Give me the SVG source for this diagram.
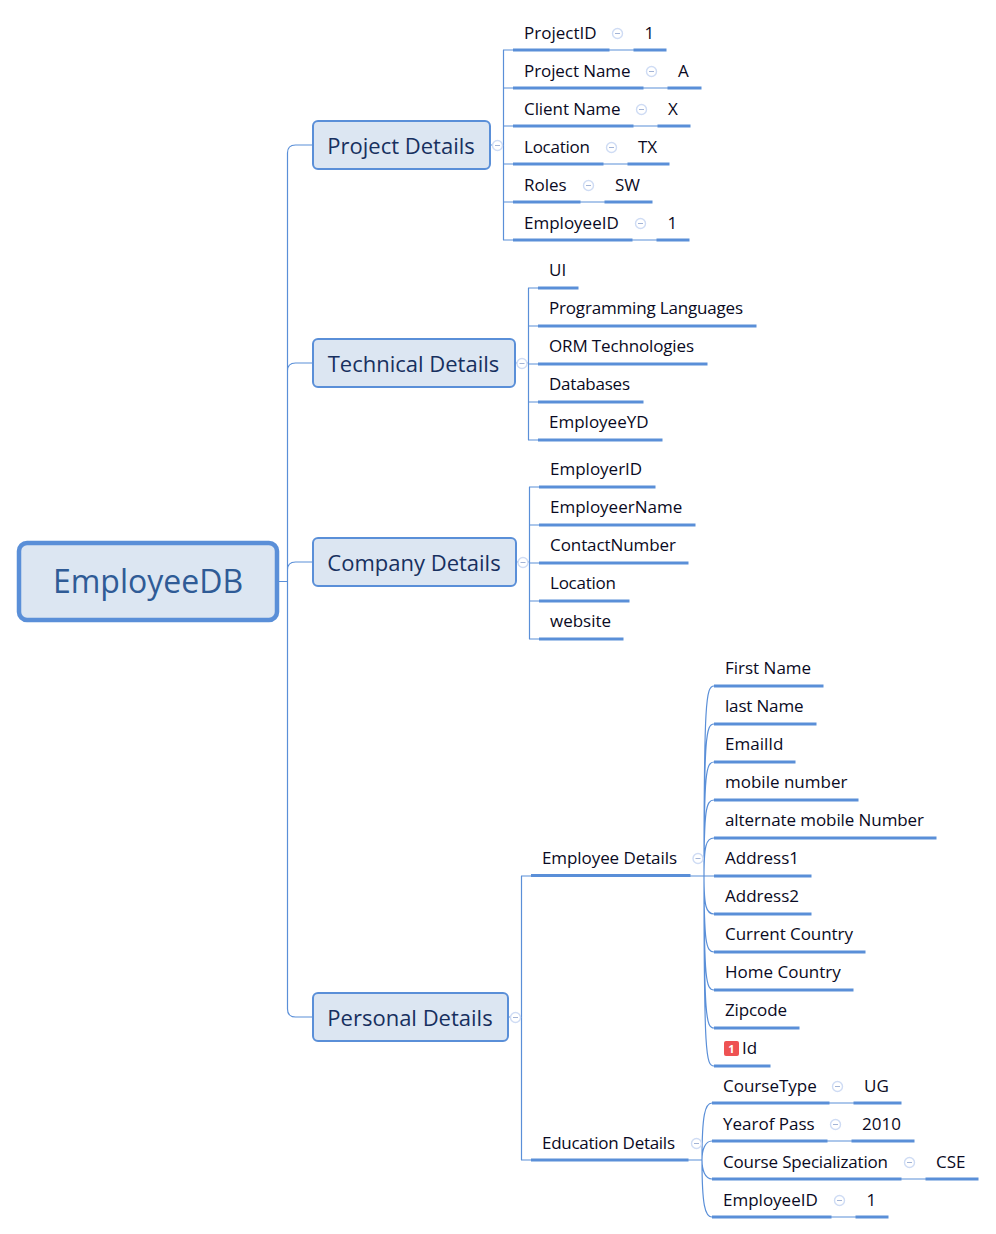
<svg xmlns="http://www.w3.org/2000/svg" width="996" height="1234" viewBox="0 0 996 1234">
<defs><g id="c"><circle r="5" fill="#fff" stroke="#cfdcf4" stroke-width="1.4"/><path d="M-2.500 0H2.500" stroke="#a3b4d6" stroke-width="1"/></g></defs>
<style>
text{font-family:"Open Sans","Liberation Sans",sans-serif}
.t{font-size:17px;fill:#0a0a23}
.m{font-size:22px;fill:#17305f;text-anchor:middle}
.r{font-size:32px;fill:#2f5b96;text-anchor:middle}
.b{fill:#dce6f2;stroke:#5a8fd8;stroke-width:2}
.l{fill:none;stroke:#5a8fd8;stroke-width:1.2}
.u{fill:none;stroke:#5a8fd8;stroke-width:3}
</style>
<rect width="996" height="1234" fill="#fff"/>
<g id="connectors">
<path class="l" d="M278 581.500H287.500M287.500 153V1009M313 145H295.500Q287.500 145 287.500 153M313 363H295.500Q287.500 363 287.500 371M313 562H295.500Q287.500 562 287.500 570M313 1017H295.500Q287.500 1017 287.500 1009"/>
<path class="l" d="M490 145H503M503.500 50V240M503 50H513M503 88H513M503 126H513M503 164H513M503 202H513M503 240H513M609 50H634M643 88H668M633 126H658M603 164H628M580 202H605M632 240H657"/>
<path class="u" d="M513 50H609.500M633.500 50H666.500M513 88H643.500M667.500 88H701.500M513 126H633.500M657.500 126H690.500M513 164H603.500M627.500 164H669.500M513 202H580.500M604.500 202H652.500M513 240H632.500M656.500 240H689.500"/>
<path class="l" d="M515 363H528M528.500 288V440M528 288H538M528 326H538M528 364H538M528 402H538M528 440H538"/>
<path class="u" d="M538 288H578.500M538 326H756.500M538 364H707.500M538 402H643.500M538 440H662.500"/>
<path class="l" d="M516 562H529M529.500 487V639M529 487H539M529 525H539M529 563H539M529 601H539M529 639H539"/>
<path class="u" d="M539 487H655.500M539 525H695.500M539 563H688.500M539 601H629.500M539 639H623.500"/>
<path class="l" d="M508 1017H521M521.500 876V1160M521 876H531M521 1160H531M690 876H714M688 1160H702"/>
<path class="u" d="M531 875.500H690.500M531 1160H688.500"/>
<path class="l" d="M704 876C704 700 706 686 714 686M704 876C704 735 706 724 714 724M704 876C704 772 706 762 714 762M704 876C704 810 706 800 714 800M704 876C704 846 706 838 714 838M704 876C704 906 706 914 714 914M704 876C704 942 706 952 714 952M704 876C704 980 706 990 714 990M704 876C704 1018 706 1028 714 1028M704 876C704 1056 706 1066 714 1066"/>
<path class="u" d="M714 686H823.500M714 724H816.500M714 762H795.500M714 800H858.500M714 838H936.500M714 876H811.500M714 914H811.500M714 952H865.500M714 990H853.500M714 1028H799.500M714 1066H770.500"/>
<path class="l" d="M702 1160C702 1115 705 1103 712 1103M702 1160C702 1150 705 1141 712 1141M702 1160C702 1170 705 1179 712 1179M702 1160C702 1205 705 1217 712 1217M829 1103H854M827 1141H852M901 1179H926M831 1217H856"/>
<path class="u" d="M712 1103H829.500M853.500 1103H901.500M712 1141H827.500M851.500 1141H914.500M712 1179H901.500M925.500 1179H978.500M712 1217H831.500M855.500 1217H888.500"/>
</g>
<g id="root"><rect x="19" y="543" width="258" height="77" rx="8" fill="#dce6f2" stroke="#5a8fd8" stroke-width="4.500"/><text class="r" x="148" y="592.500">EmployeeDB</text></g>
<g id="project-details"><rect class="b" x="313" y="121" width="177" height="48" rx="5"/><text class="m" x="401" y="153.500">Project Details</text><use href="#c" x="497.500" y="145.500"/></g>
<g id="technical-details"><rect class="b" x="313" y="339" width="202" height="48" rx="5"/><text class="m" x="413.500" y="371.500">Technical Details</text><use href="#c" x="522" y="363.500"/></g>
<g id="company-details"><rect class="b" x="313" y="538" width="203" height="48" rx="5"/><text class="m" x="414" y="570.500">Company Details</text><use href="#c" x="523" y="562.500"/></g>
<g id="personal-details"><rect class="b" x="313" y="993" width="195" height="48" rx="5"/><text class="m" x="410" y="1025.500">Personal Details</text><use href="#c" x="515.500" y="1017.500"/></g>
<g id="p1"><text class="t" x="524" y="39">ProjectID</text><use href="#c" x="617.500" y="33.500"/><text class="t" x="644.500" y="39">1</text></g>
<g id="p2"><text class="t" x="524" y="77" textLength="106.500">Project Name</text><use href="#c" x="651.500" y="71.500"/><text class="t" x="678" y="77">A</text></g>
<g id="p3"><text class="t" x="524" y="115" textLength="96.500">Client Name</text><use href="#c" x="641.500" y="109.500"/><text class="t" x="668" y="115">X</text></g>
<g id="p4"><text class="t" x="524" y="153" textLength="66">Location</text><use href="#c" x="611.500" y="147.500"/><text class="t" x="638" y="153">TX</text></g>
<g id="p5"><text class="t" x="524" y="191">Roles</text><use href="#c" x="588.500" y="185.500"/><text class="t" x="615" y="191">SW</text></g>
<g id="p6"><text class="t" x="524" y="229">EmployeeID</text><use href="#c" x="640.500" y="223.500"/><text class="t" x="667.500" y="229">1</text></g>
<g id="t1"><text class="t" x="549" y="276">UI</text></g>
<g id="t2"><text class="t" x="549" y="314" textLength="194">Programming Languages</text></g>
<g id="t3"><text class="t" x="549" y="352" textLength="145">ORM Technologies</text></g>
<g id="t4"><text class="t" x="549" y="390" textLength="81">Databases</text></g>
<g id="t5"><text class="t" x="549" y="428">EmployeeYD</text></g>
<g id="c1"><text class="t" x="550" y="475">EmployerID</text></g>
<g id="c2"><text class="t" x="550" y="513">EmployeerName</text></g>
<g id="c3"><text class="t" x="550" y="551" textLength="126">ContactNumber</text></g>
<g id="c4"><text class="t" x="550" y="589" textLength="66">Location</text></g>
<g id="c5"><text class="t" x="550" y="627">website</text></g>
<g id="employee-details"><text class="t" x="542" y="864" textLength="135">Employee Details</text><use href="#c" x="698" y="858.500"/></g>
<g id="education-details"><text class="t" x="542" y="1149" textLength="133">Education Details</text><use href="#c" x="696.500" y="1143.500"/></g>
<g id="e1"><text class="t" x="725" y="674">First Name</text></g>
<g id="e2"><text class="t" x="725" y="712" textLength="78.500">last Name</text></g>
<g id="e3"><text class="t" x="725" y="750">EmailId</text></g>
<g id="e4"><text class="t" x="725" y="788">mobile number</text></g>
<g id="e5"><text class="t" x="725" y="826" textLength="199">alternate mobile Number</text></g>
<g id="e6"><text class="t" x="725" y="864">Address1</text></g>
<g id="e7"><text class="t" x="725" y="902">Address2</text></g>
<g id="e8"><text class="t" x="725" y="940" textLength="128">Current Country</text></g>
<g id="e9"><text class="t" x="725" y="978">Home Country</text></g>
<g id="e10"><text class="t" x="725" y="1016" textLength="62">Zipcode</text></g>
<g id="e11"><rect x="724" y="1041" width="15" height="15" rx="2" fill="#ee5253"/><text x="731.500" y="1053" font-size="11" font-weight="700" fill="#fff" text-anchor="middle">1</text><text class="t" x="742" y="1054">Id</text></g>
<g id="d1"><text class="t" x="723" y="1092">CourseType</text><use href="#c" x="837.500" y="1086.500"/><text class="t" x="864" y="1092">UG</text></g>
<g id="d2"><text class="t" x="723" y="1130">Yearof Pass</text><use href="#c" x="835.500" y="1124.500"/><text class="t" x="862" y="1130">2010</text></g>
<g id="d3"><text class="t" x="723" y="1168" textLength="165">Course Specialization</text><use href="#c" x="909.500" y="1162.500"/><text class="t" x="936" y="1168">CSE</text></g>
<g id="d4"><text class="t" x="723" y="1206">EmployeeID</text><use href="#c" x="839.500" y="1200.500"/><text class="t" x="866.500" y="1206">1</text></g>
</svg>
